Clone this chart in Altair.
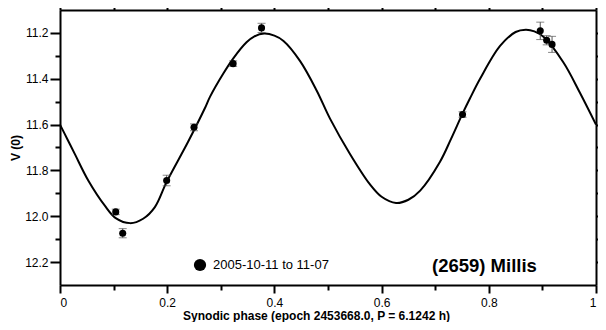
import altair as alt
import pandas as pd

# observed data points (synodic phase, V(0) magnitude, error)
obs_phase = [0.104, 0.117, 0.199, 0.250, 0.323, 0.376, 0.751, 0.896, 0.908, 0.918]
obs_mag = [11.981, 12.074, 11.844, 11.612, 11.334, 11.178, 11.556, 11.191, 11.232, 11.250]
obs_err = [0.012, 0.020, 0.023, 0.015, 0.012, 0.020, 0.012, 0.038, 0.020, 0.035]

# fitted lightcurve
fit_phase = [0.000, 0.014, 0.028, 0.053, 0.084, 0.104, 0.131, 0.155, 0.177, 0.199,
             0.239, 0.270, 0.280, 0.305, 0.323, 0.348, 0.362, 0.381, 0.400, 0.417,
             0.448, 0.479, 0.504, 0.541, 0.578, 0.600, 0.627, 0.650, 0.672, 0.709,
             0.730, 0.751, 0.765, 0.784, 0.821, 0.850, 0.869, 0.885, 0.902, 0.939,
             0.970, 1.000]
fit_mag = [11.600, 11.665, 11.730, 11.845, 11.955, 12.008, 12.030, 12.011, 11.960, 11.850,
           11.675, 11.530, 11.478, 11.376, 11.312, 11.241, 11.216, 11.203, 11.212, 11.235,
           11.323, 11.452, 11.575, 11.728, 11.860, 11.915, 11.942, 11.928, 11.888, 11.762,
           11.660, 11.552, 11.485, 11.399, 11.257, 11.196, 11.186, 11.193, 11.217, 11.328,
           11.461, 11.600]

x_ticks = [round(i * 0.1, 1) for i in range(11)]
y_ticks = [round(11.2 + i * 0.1, 1) for i in range(11)]

legend_label = "2005-10-11 to 11-07"
object_label = "(2659) Millis"
x_title = "Synodic phase (epoch 2453668.0, P = 6.1242 h)"
y_title = "V (0)"

pts = pd.DataFrame({
    "phase": obs_phase,
    "mag": obs_mag,
    "lo": [m - e for m, e in zip(obs_mag, obs_err)],
    "hi": [m + e for m, e in zip(obs_mag, obs_err)],
})
crv = pd.DataFrame({"phase": fit_phase, "mag": fit_mag})

FONT = "Liberation Sans"
MAJ = "abs(datum.value*5 - round(datum.value*5)) < 0.001"

xs = alt.Scale(domain=[0, 1], nice=False, zero=False)
ys = alt.Scale(domain=[11.1, 12.3], nice=False, zero=False, reverse=True)


def tsize(major, minor):
    return {"condition": {"test": MAJ, "value": major}, "value": minor}


common = dict(grid=False, domainColor="black", domainWidth=2, tickColor="black",
              tickWidth=2, labelFont=FONT, labelFontSize=12, labelColor="black",
              titleFont=FONT, titleFontSize=12, titleFontWeight="bold", titleColor="black")

x_bottom = alt.Axis(orient="bottom", values=x_ticks, tickSize=tsize(8, 5),
                    labelExpr=f"{MAJ} ? format(datum.value, '~g') : ''",
                    labelPadding=4, title=x_title, titleX=256, titleY=34.5,
                    titleBaseline="alphabetic", titleAnchor="middle", **common)
y_left = alt.Axis(orient="left", values=y_ticks, tickSize=tsize(10, 5),
                  labelExpr=f"{MAJ} ? format(datum.value, '.1f') : ''",
                  labelPadding=2, title=y_title, titleX=-45, titleY=137.5,
                  titleAngle=270, titleBaseline="middle", titleAnchor="middle", **common)
x_top = alt.Axis(orient="top", values=x_ticks, tickSize=tsize(10, 5), labels=False,
                 title=None, **common)
y_right = alt.Axis(orient="right", values=y_ticks, tickSize=tsize(8, 5), labels=False,
                   title=None, **common)

curve = alt.Chart(crv).mark_line(color="black", strokeWidth=2, interpolate="catmull-rom").encode(
    x=alt.X("phase:Q", scale=xs, axis=x_bottom),
    y=alt.Y("mag:Q", scale=ys, axis=y_left),
)

bars = alt.Chart(pts).mark_rule(color="#555555", strokeWidth=1).encode(
    x=alt.X("phase:Q", scale=xs, axis=x_top),
    y=alt.Y("lo:Q", scale=ys, axis=y_right),
    y2="hi:Q",
)

caps = alt.Chart(pts).transform_fold(["lo", "hi"], as_=["k", "v"]).mark_tick(
    orient="horizontal", size=8, thickness=1, color="#555555"
).encode(
    x=alt.X("phase:Q", scale=xs, axis=None),
    y=alt.Y("v:Q", scale=ys, axis=None),
)

dots = alt.Chart(pts).mark_circle(size=50, color="black", opacity=1).encode(
    x=alt.X("phase:Q", scale=xs, axis=None),
    y=alt.Y("mag:Q", scale=ys, axis=None),
)

leg_df = pd.DataFrame({"label": [legend_label]})
leg_dot = alt.Chart(leg_df).mark_circle(size=150, color="black", opacity=1).encode(
    x=alt.value(140), y=alt.value(255)
)
leg_txt = alt.Chart(leg_df).mark_text(
    align="left", baseline="middle", font=FONT, fontSize=13, color="black"
).encode(x=alt.value(153), y=alt.value(255), text="label:N")

obj_df = pd.DataFrame({"label": [object_label]})
obj_txt = alt.Chart(obj_df).mark_text(
    align="left", baseline="middle", font=FONT, fontSize=18.5, fontWeight="bold", color="black"
).encode(x=alt.value(372), y=alt.value(256), text="label:N")

chart = alt.layer(curve, bars, caps, dots, leg_dot, leg_txt, obj_txt).resolve_axis(
    x="independent", y="independent"
).properties(
    width=536, height=275,
    autosize=alt.AutoSizeParams(type="none"),
    padding={"left": 52, "top": 2, "right": 2, "bottom": 37},
).configure_view(stroke=None).configure(background="white")

chart.save("out.html", embed_options={"renderer": "svg", "actions": False})
